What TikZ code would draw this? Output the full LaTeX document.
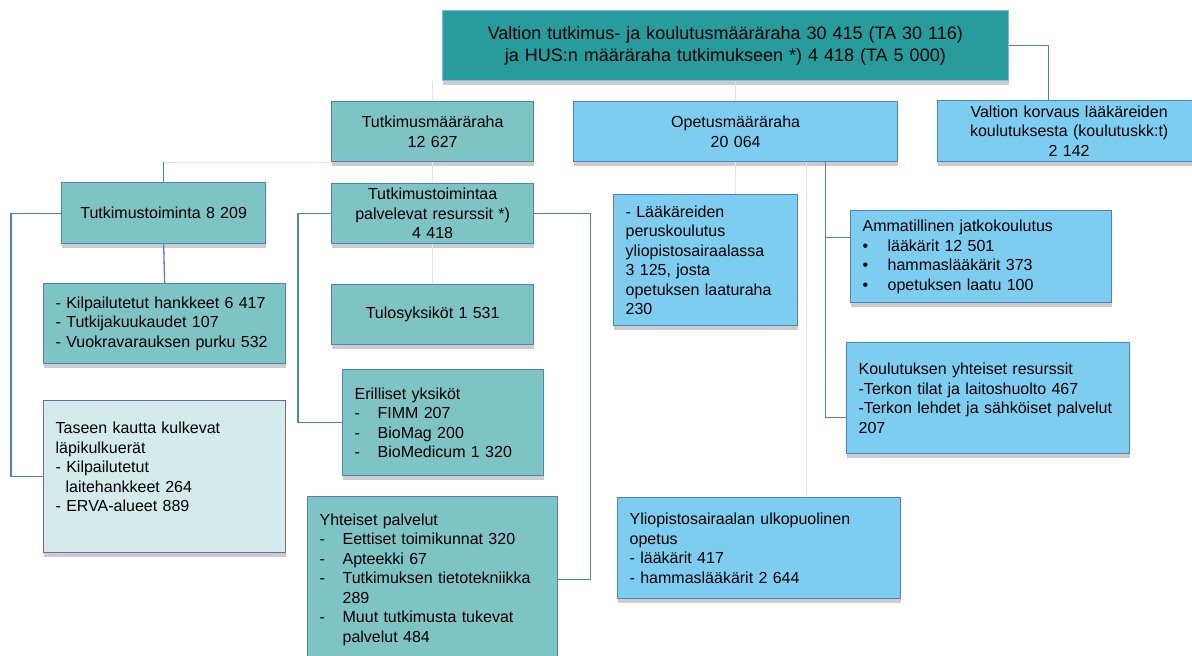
\documentclass[tikz,border=0pt]{standalone}
\usepackage{fontspec}
\setmainfont{Liberation Sans}
\usetikzlibrary{shadows}

\definecolor{topteal}{HTML}{279C9D}
\definecolor{topedge}{HTML}{8EB4E3}
\definecolor{boxteal}{HTML}{7FC4C5}
\definecolor{boxblue}{HTML}{7DCDF1}
\definecolor{paleteal}{HTML}{D3EBEB}
\definecolor{purpleedge}{HTML}{8064A2}
\definecolor{lineblue}{HTML}{4F81BD}
\definecolor{faintline}{HTML}{DCE3EF}

\newcommand\boxfont{\fontsize{16}{19.5}\selectfont}
\newcommand\topfont{\fontsize{18}{22}\selectfont}
\newcommand\itm{\makebox[23pt][l]{-}}
\newcommand\bul{\makebox[25pt][l]{\textbullet}}

\tikzset{
  box/.style={draw=lineblue, line width=1.3pt, anchor=north west, inner xsep=12pt, inner ysep=0pt,
    font=\boxfont, drop shadow={shadow xshift=0.8pt, shadow yshift=-4.5pt, fill=black!40, opacity=.5}},
  tealbox/.style={box, fill=boxteal},
  bluebox/.style={box, fill=boxblue},
  link/.style={draw=lineblue, line width=1.3pt},
  faint/.style={draw=faintline, line width=.8pt}
}

\begin{document}
\begin{tikzpicture}[x=1pt,y=-1pt]
\useasboundingbox (0,0) rectangle (1192,656);

\node[box, fill=topteal, draw=topedge, line width=.8pt, font=\topfont, minimum width=566pt, minimum height=70pt, text width=542pt, align=center] (top) at (442,10)
  {Valtion tutkimus- ja koulutusmääräraha 30 415 (TA 30 116)\\ja HUS:n määräraha tutkimukseen *) 4 418 (TA 5 000)};

\node[tealbox, minimum width=202pt, minimum height=60pt, text width=178pt, align=center] (tmr) at (331,101) {Tutkimusmääräraha\\12 627};
\node[bluebox, minimum width=324pt, minimum height=60pt, text width=300pt, align=center] (omr) at (573,101) {Opetusmääräraha\\20 064};
\node[bluebox, minimum width=263pt, minimum height=61pt, text width=239pt, align=center] (korv) at (937,100)
  {Valtion korvaus lääkäreiden\\koulutuksesta (koulutuskk:t)\\2 142};

\node[tealbox, minimum width=204pt, minimum height=61pt, text width=180pt, align=center] (ttoim) at (61,182) {Tutkimustoiminta 8 209};
\node[tealbox, minimum width=202pt, minimum height=60pt, text width=178pt, align=center] (tpal) at (331,183)
  {Tutkimustoimintaa\\palvelevat resurssit *)\\4 418};

\node[tealbox, minimum width=242pt, minimum height=80pt, text width=218pt, align=left] (kilp) at (43,283)
  {- Kilpailutetut hankkeet 6 417\\- Tutkijakuukaudet 107\\- Vuokravarauksen purku 532};
\node[box, fill=paleteal, draw=purpleedge, minimum width=242pt, minimum height=152pt, text width=218pt, align=left] (taseen) at (43,400)
  {Taseen kautta kulkevat\\läpikulkuerät\\- Kilpailutetut\\\hspace*{10pt}laitehankkeet 264\\- ERVA-alueet 889\\\mbox{}};

\node[tealbox, minimum width=202pt, minimum height=60pt, text width=178pt, align=center] (tulos) at (331,284) {Tulosyksiköt 1 531};
\node[tealbox, minimum width=201pt, minimum height=106pt, text width=177pt, align=left] (eril) at (342,369)
  {Erilliset yksiköt\\\itm FIMM 207\\\itm BioMag 200\\\itm BioMedicum 1 320};
\node[tealbox, minimum width=250pt, minimum height=166pt, text width=226pt, align=left] (yht) at (307,496)
  {Yhteiset palvelut\\\itm Eettiset toimikunnat 320\\\itm Apteekki 67\\\itm Tutkimuksen tietotekniikka\\\hspace*{23pt}289\\\itm Muut tutkimusta tukevat\\\hspace*{23pt}palvelut 484};

\node[bluebox, minimum width=184pt, minimum height=131pt, text width=160pt, align=left] (laak) at (613,194)
  {- Lääkäreiden\\peruskoulutus\\yliopistosairaalassa\\3 125, josta\\opetuksen laaturaha\\230};
\node[bluebox, minimum width=261pt, minimum height=92pt, text width=237pt, align=left] (amm) at (850,210)
  {Ammatillinen jatkokoulutus\\\bul lääkärit 12 501\\\bul hammaslääkärit 373\\\bul opetuksen laatu 100};
\node[bluebox, minimum width=283pt, minimum height=111pt, text width=259pt, align=left] (koul) at (846,342)
  {Koulutuksen yhteiset resurssit\\-Terkon tilat ja laitoshuolto 467\\-Terkon lehdet ja sähköiset palvelut\\207};
\node[bluebox, minimum width=283pt, minimum height=101pt, text width=259pt, align=left] (yo) at (617,497)
  {Yliopistosairaalan ulkopuolinen\\opetus\\- lääkärit 417\\- hammaslääkärit 2 644};

\coordinate (of) at ([xshift=71pt]omr.south);
\coordinate (ob) at ([xshift=90pt]omr.south);

\draw[faint] (tmr.north |- top.south) -- (tmr.north);
\draw[faint] (omr.north |- top.south) -- (omr.north);
\draw[faint] (tmr.south) -- (tpal.north);
\draw[faint] (tpal.south) -- (tulos.north);
\draw[faint] (tmr.south west) -- (tmr.south west -| ttoim.north);
\draw[faint] (omr.south) -- (omr.south |- laak.north);
\draw[faint] (of) -- (of |- yo.north);

\draw[link] (top.east) -| ([xshift=-20.5pt]korv.north);
\draw[link] (tmr.south west -| ttoim.north) -- (ttoim.north);
\draw[link] (ttoim.south) -- (kilp.north);
\draw[link] (ttoim.west) -- ++(-50,0) |- (taseen.west);
\draw[link] (tpal.west) -- ++(-33,0) |- (eril.west);
\draw[link] (tpal.east) -- ++(56,0) |- (yht.east);
\draw[link] (ob) |- ([yshift=-19.5pt]koul.west);
\draw[link] ([yshift=19pt]amm.west) -| (ob);
\end{tikzpicture}
\end{document}
